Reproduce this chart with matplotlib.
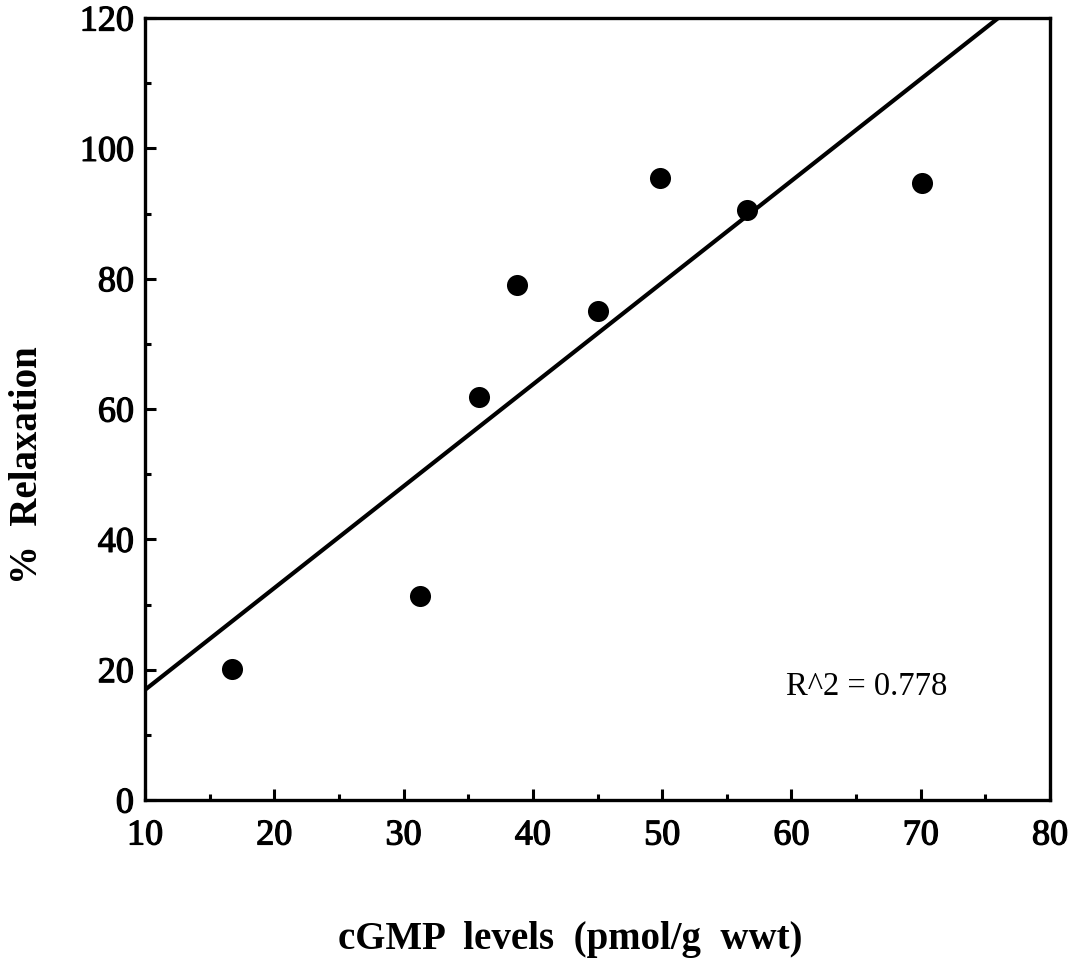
import numpy as np
import matplotlib
matplotlib.use("Agg")
import matplotlib.pyplot as plt
import matplotlib.patheffects as pe
from matplotlib.ticker import MultipleLocator

# cGMP level (pmol/g wwt) and relaxation (%) for each preparation
cgmp = [16.7, 31.3, 35.8, 38.8, 45.0, 49.8, 56.6, 70.1]
relaxation = [20.1, 31.3, 61.8, 79.0, 75.0, 95.4, 90.5, 94.7]
r_squared_label = "R^2 = 0.778"
x_ticks = [10, 20, 30, 40, 50, 60, 70, 80]
y_ticks = [0, 20, 40, 60, 80, 100, 120]

serif = ["Liberation Serif", "DejaVu Serif"]
heavy = [pe.withStroke(linewidth=0.9, foreground="black")]

fig = plt.figure(figsize=(10.71, 9.69), dpi=100)
ax = fig.add_axes([0.1354, 0.1744, 0.8450, 0.8070])

ax.scatter(cgmp, relaxation, s=230, color="black", zorder=3, linewidths=0)

# least-squares regression line
slope, intercept = np.polyfit(cgmp, relaxation, 1)
xs = np.array([10, 80])
ax.plot(xs, slope * xs + intercept, color="black", lw=3.0, solid_capstyle="butt")

ax.set_xlim(10, 80)
ax.set_ylim(0, 120)
ax.set_xticks(x_ticks)
ax.set_yticks(y_ticks)
ax.xaxis.set_minor_locator(MultipleLocator(5))
ax.yaxis.set_minor_locator(MultipleLocator(10))

for side in ax.spines.values():
    side.set_linewidth(2.4)

ax.tick_params(which="both", direction="in", width=2.2, top=False, right=False)
ax.tick_params(which="major", length=8)
ax.tick_params(which="minor", length=4.5)
ax.tick_params(axis="x", which="major", pad=14)
ax.tick_params(axis="y", which="major", pad=8)

for lab in ax.get_xticklabels() + ax.get_yticklabels():
    lab.set_fontfamily(serif)
    lab.set_fontsize(26)
    lab.set_path_effects(heavy)

ax.text(59.6, 17.4, r_squared_label, fontsize=23.5, family=serif, ha="left", va="center")

fig.text(0.532, 0.030, "cGMP  levels  (pmol/g  wwt)", fontsize=28, fontweight="bold",
         family=serif, ha="center", va="center")
fig.text(0.026, 0.520, "%  Relaxation", fontsize=28, fontweight="bold",
         family=serif, ha="center", va="center", rotation=90)

fig.savefig("out.png", dpi=100)
